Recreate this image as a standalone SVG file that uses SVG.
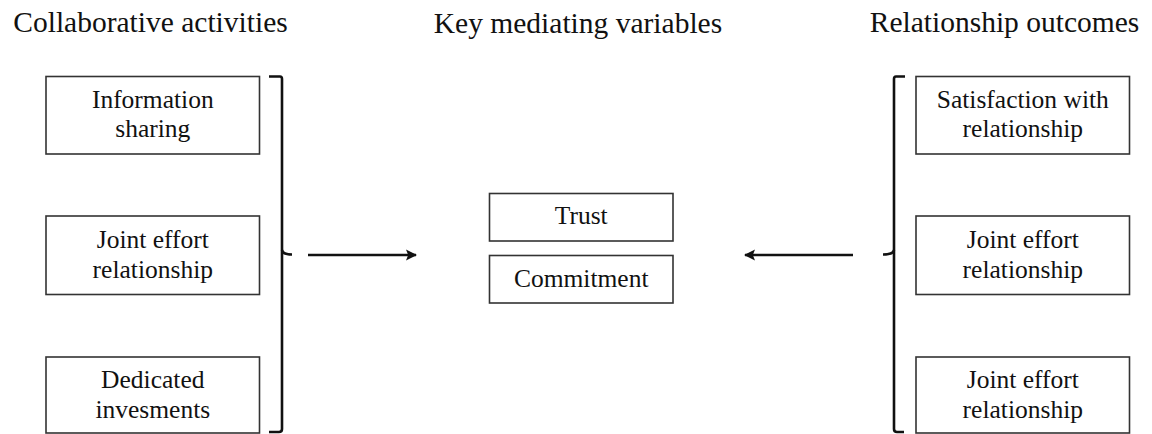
<svg xmlns="http://www.w3.org/2000/svg" width="1152" height="434" viewBox="0 0 1152 434">
<defs>
<style>
.title{font-family:"Liberation Serif","Times New Roman",serif;font-size:29.5px;fill:#111;text-anchor:middle}
.lbl{font-family:"Liberation Serif","Times New Roman",serif;font-size:25.5px;fill:#111;text-anchor:middle}
.box{fill:#fff;stroke:#333;stroke-width:1.6}
.br{fill:none;stroke:#111;stroke-width:2.6;stroke-linejoin:round}
.arr{stroke:#111;stroke-width:2.6;fill:none}
</style>
<marker id="ah" viewBox="0 0 10 10" refX="9" refY="5" markerWidth="4.3" markerHeight="4.3" orient="auto" markerUnits="strokeWidth">
<path d="M0,0 L10,5 L0,10 L2,5 Z" fill="#111"/>
</marker>
</defs>
<rect width="1152" height="434" fill="#fff"/>
<g id="titles">
<text class="title" x="150.5" y="32">Collaborative activities</text>
<text class="title" x="578" y="33">Key mediating variables</text>
<text class="title" x="1004.5" y="32">Relationship outcomes</text>
</g>
<g id="n-info"><rect class="box" x="46" y="76.5" width="213.5" height="77.5"/><text class="lbl" x="152.8" y="108">Information</text><text class="lbl" x="152.8" y="137">sharing</text></g>
<g id="n-joint-left"><rect class="box" x="46" y="216" width="213.5" height="78.5"/><text class="lbl" x="152.8" y="248">Joint effort</text><text class="lbl" x="152.8" y="278">relationship</text></g>
<g id="n-dedicated"><rect class="box" x="46" y="357" width="213.5" height="76"/><text class="lbl" x="152.8" y="388">Dedicated</text><text class="lbl" x="152.8" y="418">invesments</text></g>
<g id="n-trust"><rect class="box" x="489.5" y="193.5" width="183.5" height="47.5"/><text class="lbl" x="581.2" y="224">Trust</text></g>
<g id="n-commitment"><rect class="box" x="489.5" y="255.5" width="183.5" height="47.5"/><text class="lbl" x="581.2" y="287">Commitment</text></g>
<g id="n-satisfaction"><rect class="box" x="916" y="76.5" width="213.5" height="77.5"/><text class="lbl" x="1022.8" y="108">Satisfaction with</text><text class="lbl" x="1022.8" y="137">relationship</text></g>
<g id="n-joint-right1"><rect class="box" x="916" y="216" width="213.5" height="78.5"/><text class="lbl" x="1022.8" y="248">Joint effort</text><text class="lbl" x="1022.8" y="278">relationship</text></g>
<g id="n-joint-right2"><rect class="box" x="916" y="357" width="213.5" height="76"/><text class="lbl" x="1022.8" y="388">Joint effort</text><text class="lbl" x="1022.8" y="418">relationship</text></g>
<g id="connectors">
<path class="br" d="M269,76.5 H280 Q282,76.5 282,79 V429 Q282,432 279,432 H269"/>
<path class="br" d="M282,250 Q282.5,254.5 292,254.5"/>
<path class="br" d="M905,76.5 H896 Q894,76.5 894,79 V429 Q894,432 897,432 H904"/>
<path class="br" d="M894,250 Q893.5,254.5 883,254.5"/>
<line class="arr" x1="308" y1="255" x2="416" y2="255" marker-end="url(#ah)"/>
<line class="arr" x1="853" y1="255" x2="745" y2="255" marker-end="url(#ah)"/>
</g>
</svg>
